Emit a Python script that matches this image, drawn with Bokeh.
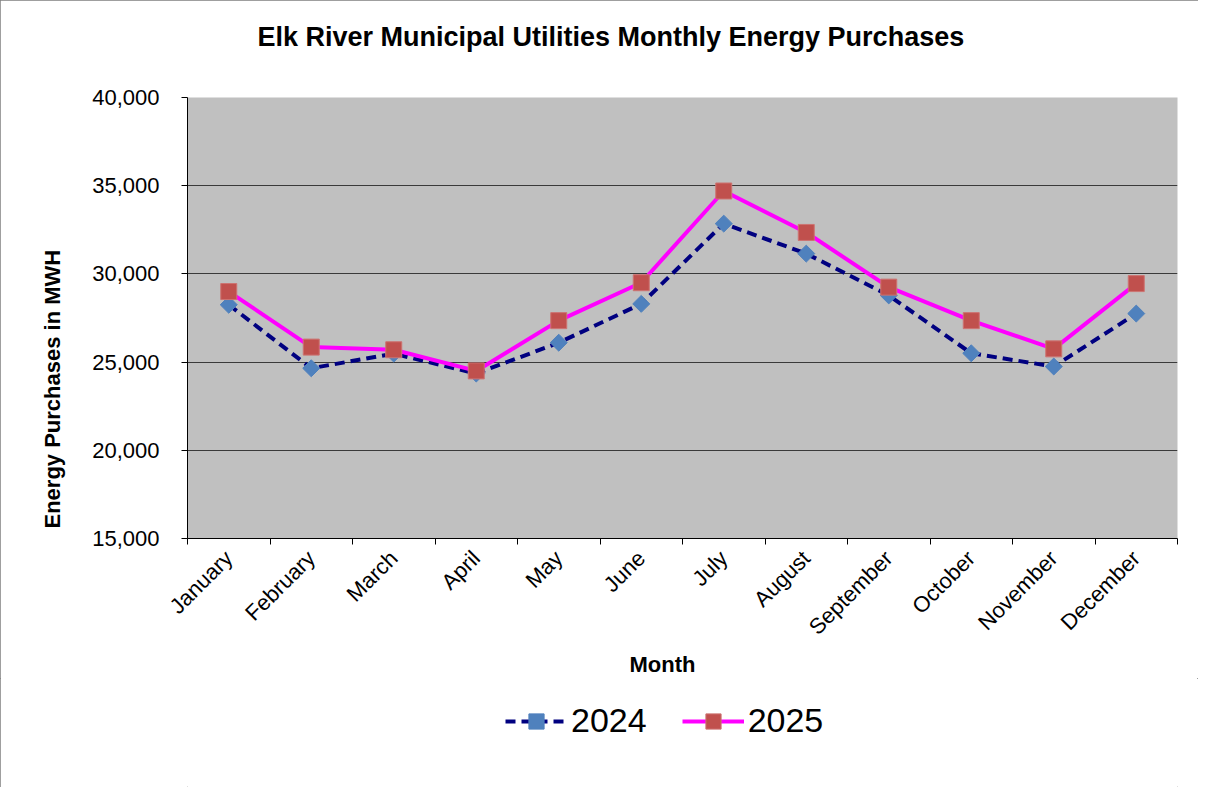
import math
from bokeh.plotting import figure
from bokeh.layouts import column
from bokeh.models import (FixedTicker, NumeralTickFormatter, Legend, LegendItem, Title)
from bokeh.embed import file_html
from bokeh.resources import INLINE

months = ["January", "February", "March", "April", "May", "June", "July",
          "August", "September", "October", "November", "December"]
y2024 = [28250, 24650, 25480, 24350, 26100, 28300, 32850, 31150, 28780, 25500, 24750, 27750]
y2025 = [29000, 25850, 25700, 24500, 27350, 29500, 34700, 32350, 29250, 27350, 25750, 29450]
series_names = ["2024", "2025"]
y_ticks = [15000, 20000, 25000, 30000, 35000, 40000]

title_text = "Elk River Municipal Utilities Monthly Energy Purchases"
y_title = "Energy Purchases in MWH"
x_title = "Month"

FONT = "Liberation Sans"
xs = list(range(1, len(months) + 1))

# styles per series
S2024 = dict(line_color="#000080", line_width=4, line_dash="10 6",
             marker="square", size=12, angle=math.pi / 4, fill="#4F81BD", edge="#4F81BD")
S2025 = dict(line_color="#FF00FF", line_width=4, line_dash="solid",
             marker="square", size=16, angle=0.0, fill="#C0504D", edge="#CD7371")

p = figure(frame_width=990, frame_height=441, x_range=(0.5, len(months) + 0.5),
           y_range=(y_ticks[0], y_ticks[-1]),
           min_border_left=187, min_border_right=21, min_border_top=97,
           min_border_bottom=137, output_backend="svg", toolbar_location=None)
p.background_fill_color = "#C0C0C0"
p.border_fill_color = "white"
p.outline_line_color = None

# axes
p.xaxis.ticker = FixedTicker(ticks=xs, minor_ticks=[i + 0.5 for i in range(0, len(months) + 1)])
p.xaxis.major_label_overrides = {x: m for x, m in zip(xs, months)}
p.xaxis.major_label_orientation = math.pi / 4
p.xaxis.major_tick_out = 0
p.xaxis.major_tick_in = 0
p.xaxis.minor_tick_out = 6
p.xaxis.minor_tick_in = 0
p.xaxis.minor_tick_line_color = "black"
p.xaxis.major_label_standoff = 10
p.xaxis.major_label_text_font = FONT
p.xaxis.major_label_text_font_size = "22px"
p.xaxis.major_label_text_color = "black"
p.xaxis.axis_line_color = "black"

p.yaxis.ticker = FixedTicker(ticks=y_ticks)
p.yaxis.formatter = NumeralTickFormatter(format="0,0")
p.yaxis.major_tick_out = 6
p.yaxis.major_tick_in = 0
p.yaxis.minor_tick_line_color = None
p.yaxis.major_label_standoff = 22
p.yaxis.major_label_text_font = FONT
p.yaxis.major_label_text_font_size = "22px"
p.yaxis.major_label_text_color = "black"
p.yaxis.axis_line_color = "black"
p.yaxis.major_tick_line_color = "black"

p.xgrid.grid_line_color = None
p.ygrid.grid_line_color = "#3a3a3a"
p.ygrid.grid_line_width = 1

# series
for ys, st in ((y2024, S2024), (y2025, S2025)):
    p.line(xs, ys, line_color=st["line_color"], line_width=st["line_width"],
           line_dash=st["line_dash"])
    p.scatter(xs, ys, marker=st["marker"], size=st["size"], angle=st["angle"],
              fill_color=st["fill"], line_color=st["edge"])

# titles (in side panels)
p.title.text = ""
spacer = Title(text=" ", text_font_size="10px", standoff=31, align="left")
main_title = Title(text=title_text, align="left", offset=70, vertical_align="top",
                   standoff=0, text_font=FONT, text_font_size="27px",
                   text_font_style="bold", text_color="black")
p.add_layout(spacer, "above")
p.add_layout(main_title, "above")

ylab = Title(text=y_title, align="left", offset=10, vertical_align="bottom",
             standoff=50, text_font=FONT, text_font_size="22px",
             text_font_style="bold", text_color="black")
p.add_layout(ylab, "left")

xlab = Title(text=x_title, align="left", offset=442, vertical_align="top",
             standoff=0, text_font=FONT, text_font_size="22px",
             text_font_style="bold", text_color="black")
p.add_layout(xlab, "below")

# legend strip (separate figure below the chart; its series lie outside its view)
q = figure(width=1198, height=109, x_range=(-2, -1), y_range=(-2, -1),
           x_axis_type=None, y_axis_type=None, min_border=0,
           output_backend="svg", toolbar_location=None)
q.title.text = ""
q.grid.visible = False
q.outline_line_color = None
q.background_fill_color = "white"
q.border_fill_color = "white"

items = []
for name, ys, st in zip(series_names, (y2024, y2025), (S2024, S2025)):
    lr = q.line(xs, ys, line_color=st["line_color"], line_width=st["line_width"],
                line_dash=st["line_dash"])
    sr = q.scatter(xs, ys, marker=st["marker"], size=st["size"], angle=st["angle"],
                   fill_color=st["fill"], line_color=st["edge"])
    items.append(LegendItem(label=name, renderers=[lr, sr]))

legend = Legend(items=items, orientation="horizontal", location=(318, 47),
                glyph_width=62, glyph_height=38, label_standoff=4, spacing=35,
                padding=0, margin=0, border_line_color=None,
                background_fill_alpha=0,
                label_text_font=FONT, label_text_font_size="34px",
                label_text_color="black")
q.add_layout(legend)

layout = column(p, q, spacing=0)
layout.styles = {"outline": "1px solid #7f7f7f", "outline-offset": "-1px"}

open("out.html", "w").write(file_html(layout, INLINE))
